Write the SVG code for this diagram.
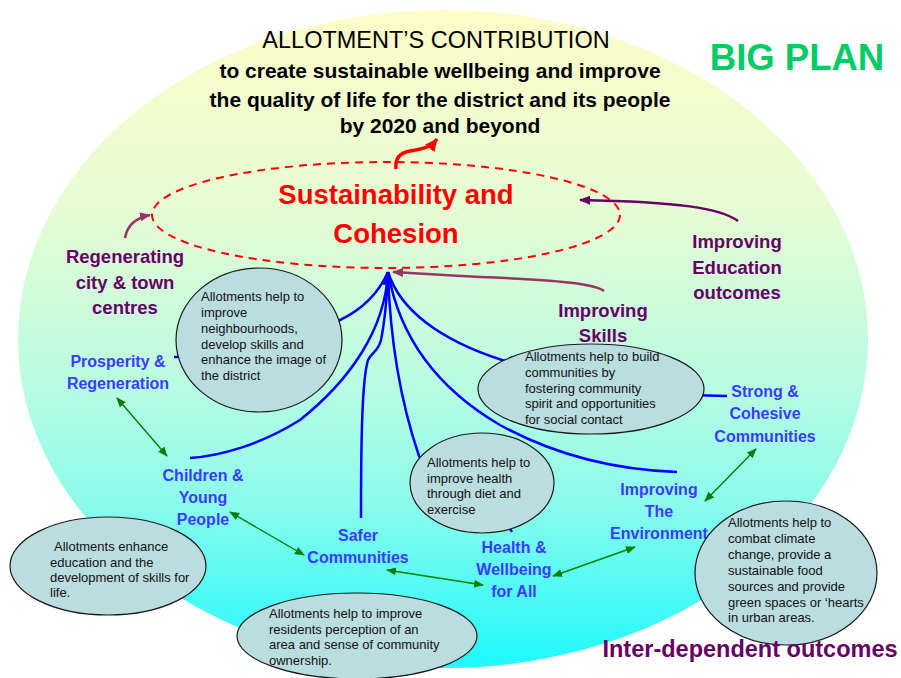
<svg xmlns="http://www.w3.org/2000/svg" width="901" height="678" viewBox="0 0 901 678">
<defs>
<linearGradient id="bg" x1="0" y1="0" x2="0" y2="1">
<stop offset="0" stop-color="#fdfdc8"/>
<stop offset="0.3" stop-color="#e6fcd4"/>
<stop offset="0.55" stop-color="#bdfce0"/>
<stop offset="0.75" stop-color="#8cfbec"/>
<stop offset="1" stop-color="#1ef8fc"/>
</linearGradient>
<marker id="blueArrow" markerUnits="userSpaceOnUse" markerWidth="12" markerHeight="12" viewBox="0 0 12 12" refX="10" refY="6" orient="auto"><path d="M0,1 L11,6 L0,11 Z" fill="#0000ff"/></marker>
<marker id="greenArrow" markerUnits="userSpaceOnUse" markerWidth="10" markerHeight="10" viewBox="0 0 10 10" refX="9" refY="5" orient="auto-start-reverse"><path d="M0,1 L10,5 L0,9 Z" fill="#008000"/></marker>
<marker id="purpleArrow" markerUnits="userSpaceOnUse" markerWidth="12" markerHeight="12" viewBox="0 0 12 12" refX="10" refY="6" orient="auto"><path d="M0,1.5 L11,6 L0,10.5 Z" fill="#660066"/></marker>
<marker id="mauveArrow" markerUnits="userSpaceOnUse" markerWidth="12" markerHeight="12" viewBox="0 0 12 12" refX="10" refY="6" orient="auto"><path d="M0,1.5 L11,6 L0,10.5 Z" fill="#993366"/></marker>
<marker id="redArrow" markerUnits="userSpaceOnUse" markerWidth="14" markerHeight="14" viewBox="0 0 14 14" refX="12" refY="7" orient="auto"><path d="M0,1 L13,7 L0,13 Z" fill="#ff0000"/></marker>
</defs>
<style>
.blue{fill:none;stroke:#0000ff;stroke-width:2.5}
.green{fill:none;stroke:#008000;stroke-width:1.4;marker-start:url(#greenArrow);marker-end:url(#greenArrow)}
.note{fill:#badde0;stroke:#1a1a1a;stroke-width:1.2}
.nt{font-family:"Liberation Sans",Arial,sans-serif;font-size:13px;fill:#111}
.bl{font-family:"Liberation Sans",Arial,sans-serif;font-weight:bold;font-size:16px;fill:#3b3bff;text-anchor:middle}
.pu{font-family:"Liberation Sans",Arial,sans-serif;font-weight:bold;font-size:18.5px;fill:#660066;text-anchor:middle}
.tt{font-family:"Liberation Sans",Arial,sans-serif;font-weight:bold;font-size:21px;fill:#000;text-anchor:middle}
</style>

<ellipse id="background" cx="443" cy="339" rx="425" ry="329" fill="url(#bg)"/>

<g id="title">
<text x="436" y="48" font-family="Liberation Sans, Arial, sans-serif" font-size="23.5" text-anchor="middle" fill="#000">ALLOTMENT’S CONTRIBUTION</text>
<text class="tt" x="440" y="78">to create sustainable wellbeing and improve</text>
<text class="tt" x="440" y="107">the quality of life for the district and its people</text>
<text class="tt" x="440" y="133">by 2020 and beyond</text>
</g>

<g id="big-plan">
<text x="797" y="70" font-family="Liberation Sans, Arial, sans-serif" font-size="36.5" font-weight="bold" fill="#00cc66" text-anchor="middle">BIG PLAN</text>
</g>

<g id="sustainability">
<ellipse cx="386" cy="215" rx="234" ry="53" fill="none" stroke="#ff0000" stroke-width="2" stroke-dasharray="8 6"/>
<text x="396" y="204" font-family="Liberation Sans, Arial, sans-serif" font-size="27.5" font-weight="bold" fill="#ff0000" text-anchor="middle">Sustainability and</text>
<text x="396" y="243" font-family="Liberation Sans, Arial, sans-serif" font-size="27.5" font-weight="bold" fill="#ff0000" text-anchor="middle">Cohesion</text>
</g>

<g id="connectors">
<path d="M396,169 C395,160 398,153 410,151 C422,149 430,148 437,139" fill="none" stroke="#ff0000" stroke-width="3.5" marker-end="url(#redArrow)"/>
<path d="M125,238 C127,226 135,218 150,215" fill="none" stroke="#993366" stroke-width="2.5" marker-end="url(#mauveArrow)"/>
<path d="M738,221 C720,208 680,202 580,200" fill="none" stroke="#660066" stroke-width="2.5" marker-end="url(#purpleArrow)"/>
<path d="M604,291 C595,284 560,280 480,277 C440,275 412,273 393,272" fill="none" stroke="#993366" stroke-width="2.5" marker-end="url(#mauveArrow)"/>

<path class="blue" d="M388,272 C380,290 365,308 340,320 C300,340 220,357 174,357"/>
<path class="blue" d="M388,272 C385,330 350,380 300,420 C260,445 220,456 190,458"/>
<path class="blue" d="M361,518 C361,440 362,380 368,360 C372,352 378,352 381,340 C385,320 387,295 388,275" marker-end="url(#blueArrow)"/>
<path class="blue" d="M388,272 C390,340 400,400 419,456 C440,500 500,510 512,532"/>
<path class="blue" d="M388,272 C400,340 440,390 500,425 C560,458 620,470 677,472"/>
<path class="blue" d="M388,272 C400,310 440,340 502,360 C560,380 650,396 727,396"/>

<path class="green" d="M117,398 L167,456"/>
<path class="green" d="M230,512 L304,555"/>
<path class="green" d="M387,570 L483,585"/>
<path class="green" d="M553,576 L635,547"/>
<path class="green" d="M705,501 L756,449"/>
</g>

<g id="regenerating">
<text class="pu" x="125" y="263">Regenerating</text>
<text class="pu" x="125" y="289">city &amp; town</text>
<text class="pu" x="125" y="314">centres</text>
</g>
<g id="improving-education">
<text class="pu" x="737" y="248">Improving</text>
<text class="pu" x="737" y="274">Education</text>
<text class="pu" x="737" y="299">outcomes</text>
</g>
<g id="improving-skills">
<text class="pu" x="603" y="317">Improving</text>
<text class="pu" x="603" y="342">Skills</text>
</g>

<g id="prosperity">
<text class="bl" x="118" y="367">Prosperity &amp;</text>
<text class="bl" x="118" y="389">Regeneration</text>
</g>
<g id="children">
<text class="bl" x="203" y="481">Children &amp;</text>
<text class="bl" x="203" y="503">Young</text>
<text class="bl" x="203" y="525">People</text>
</g>
<g id="safer">
<text class="bl" x="358" y="541">Safer</text>
<text class="bl" x="358" y="563">Communities</text>
</g>
<g id="health">
<text class="bl" x="514" y="553">Health &amp;</text>
<text class="bl" x="514" y="575">Wellbeing</text>
<text class="bl" x="514" y="597">for All</text>
</g>
<g id="environment">
<text class="bl" x="659" y="495">Improving</text>
<text class="bl" x="659" y="517">The</text>
<text class="bl" x="659" y="539">Environment</text>
</g>
<g id="strong">
<text class="bl" x="765" y="397">Strong &amp;</text>
<text class="bl" x="765" y="419">Cohesive</text>
<text class="bl" x="765" y="442">Communities</text>
</g>

<g id="note-neighbourhoods">
<ellipse class="note" cx="259" cy="340" rx="83" ry="72"/>
<text class="nt" x="201" y="301">Allotments help to</text>
<text class="nt" x="201" y="317">improve</text>
<text class="nt" x="201" y="333">neighbourhoods,</text>
<text class="nt" x="201" y="349">develop skills and</text>
<text class="nt" x="201" y="364">enhance the image of</text>
<text class="nt" x="201" y="380">the district</text>
</g>
<g id="note-communities">
<ellipse class="note" cx="591" cy="389" rx="113" ry="45"/>
<text class="nt" x="525" y="361">Allotments help to build</text>
<text class="nt" x="525" y="377">communities by</text>
<text class="nt" x="525" y="393">fostering community</text>
<text class="nt" x="525" y="408">spirit and opportunities</text>
<text class="nt" x="525" y="424">for social contact</text>
</g>
<g id="note-health">
<ellipse class="note" cx="482" cy="483" rx="72" ry="50"/>
<text class="nt" x="427" y="467">Allotments help to</text>
<text class="nt" x="427" y="483">improve health</text>
<text class="nt" x="427" y="498">through diet and</text>
<text class="nt" x="427" y="514">exercise</text>
</g>
<g id="note-education">
<ellipse class="note" cx="108" cy="566" rx="98" ry="49"/>
<text class="nt" x="54" y="551">Allotments enhance</text>
<text class="nt" x="50" y="567">education and the</text>
<text class="nt" x="50" y="582">development of skills for</text>
<text class="nt" x="50" y="597">life.</text>
</g>
<g id="note-perception">
<ellipse class="note" cx="357" cy="636" rx="120" ry="43"/>
<text class="nt" x="269" y="618">Allotments help to improve</text>
<text class="nt" x="269" y="634">residents perception of an</text>
<text class="nt" x="269" y="649">area and sense of community</text>
<text class="nt" x="269" y="665">ownership.</text>
</g>
<g id="note-climate">
<ellipse class="note" cx="786" cy="573" rx="91" ry="72"/>
<text class="nt" x="728" y="527">Allotments help to</text>
<text class="nt" x="728" y="543">combat climate</text>
<text class="nt" x="728" y="559">change, provide a</text>
<text class="nt" x="728" y="575">sustainable food</text>
<text class="nt" x="728" y="591">sources and provide</text>
<text class="nt" x="728" y="607">green spaces or ‘hearts</text>
<text class="nt" x="728" y="622">in urban areas.</text>
</g>

<g id="inter-dependent">
<text x="750" y="657" font-family="Liberation Sans, Arial, sans-serif" font-size="23.5" font-weight="bold" fill="#660066" text-anchor="middle">Inter-dependent outcomes</text>
</g>
</svg>
